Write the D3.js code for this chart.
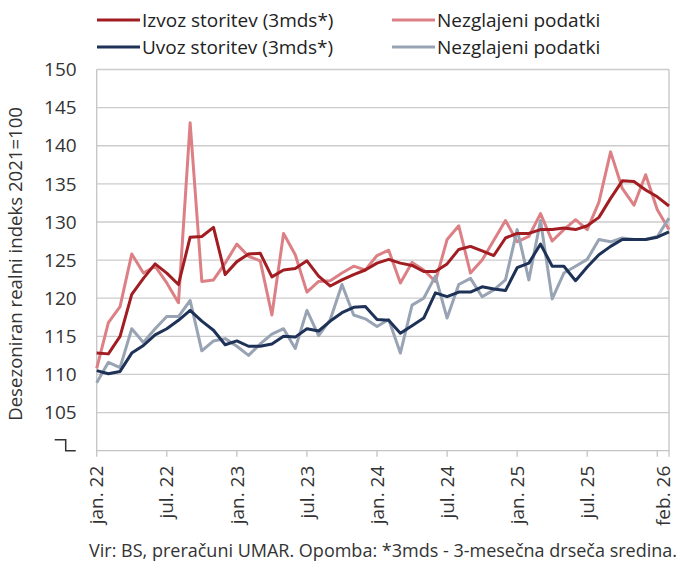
<!DOCTYPE html>
<meta charset="utf-8">
<title>Izvoz in uvoz storitev</title>
<style>
    body { margin: 0; background: #fff; }
    svg { display: block; font-family: "Open Sans", "Liberation Sans", sans-serif; }
</style>
<svg width="679" height="562"></svg>
<script src="https://d3js.org/d3.v7.min.js"></script>
<script>

    // mesecni podatki, jan. 2022 - feb. 2026
    var months = d3.timeMonth.range(new Date(2022, 0, 1), new Date(2026, 2, 1));

    var izvoz3mds = [112.8, 112.7, 115.0, 120.5, 122.6, 124.5, 123.3, 121.8, 128.0, 128.1,
        129.3, 123.1, 124.8, 125.8, 125.9, 122.8, 123.7, 123.9, 124.9, 122.9,
        121.6, 122.4, 123.1, 123.7, 124.6, 125.1, 124.6, 124.3, 123.5, 123.5,
        124.5, 126.4, 126.8, 126.2, 125.6, 127.9, 128.5, 128.5, 129.0, 129.0,
        129.2, 129.0, 129.5, 130.6, 133.1, 135.4, 135.3, 134.2, 133.3, 132.1];

    var izvozRaw = [110.8, 116.8, 118.9, 125.8, 123.3, 124.2, 122.0, 119.4, 143.0, 122.2,
        122.4, 124.6, 127.1, 125.5, 124.9, 117.8, 128.5, 125.7, 120.8, 122.2,
        122.3, 123.3, 124.2, 123.7, 125.6, 126.3, 122.0, 124.7, 123.7, 122.2,
        127.7, 129.5, 123.3, 125.0, 127.6, 130.2, 127.4, 128.1, 131.1, 127.5,
        129.0, 130.3, 129.0, 132.6, 139.2, 134.4, 132.2, 136.2, 131.6, 129.0];

    var uvoz3mds = [110.5, 110.1, 110.4, 112.8, 113.8, 115.2, 116.0, 117.1, 118.4, 117.0,
        115.8, 113.9, 114.4, 113.7, 113.7, 114.0, 115.0, 114.9, 116.0, 115.7,
        117.0, 118.1, 118.8, 118.9, 117.2, 117.1, 115.4, 116.4, 117.4, 120.7,
        120.2, 120.8, 120.8, 121.5, 121.2, 121.0, 124.0, 124.6, 127.1, 124.2,
        124.2, 122.3, 124.1, 125.7, 126.8, 127.7, 127.7, 127.7, 128.0, 128.7];

    var uvozRaw = [108.9, 111.6, 110.9, 116.0, 114.2, 116.0, 117.6, 117.6, 119.7, 113.1,
        114.4, 114.7, 113.7, 112.5, 114.0, 115.3, 116.0, 113.4, 118.4, 115.1,
        117.2, 121.8, 117.8, 117.3, 116.3, 117.2, 112.8, 119.1, 120.0, 122.9,
        117.4, 121.8, 122.6, 120.2, 121.1, 122.4, 129.0, 122.4, 130.2, 119.9,
        123.3, 124.2, 125.1, 127.7, 127.4, 127.9, 127.7, 127.7, 128.1, 130.5];

    var tickIdx = [0, 6, 12, 18, 24, 30, 36, 42, 48];
    var labelIdx = [0, 6, 12, 18, 24, 30, 36, 42, 49];
    var tickLabels = ["jan. 22", "jul. 22", "jan. 23", "jul. 23", "jan. 24", "jul. 24", "jan. 25", "jul. 25", "feb. 26"];
    var yTicks = [105, 110, 115, 120, 125, 130, 135, 140, 145, 150];

    var series = [
        {name: "Nezglajeni podatki", values: izvozRaw, color: "#dc8085", width: 3},
        {name: "Nezglajeni podatki", values: uvozRaw, color: "#98a3b3", width: 3},
        {name: "Izvoz storitev (3mds*)", values: izvoz3mds, color: "#a11d22", width: 3},
        {name: "Uvoz storitev (3mds*)", values: uvoz3mds, color: "#1e3258", width: 3}
    ];

    var svg = d3.select("svg"),
        margin = {top: 69.5, right: 10, bottom: 111.3, left: 96.7},
        width = +svg.attr("width") - margin.left - margin.right,
        height = +svg.attr("height") - margin.top - margin.bottom;

    var x = d3.scaleLinear().domain([0, months.length - 1]).range([0, width]);
    var y = d3.scaleLinear().domain([100, 150]).range([height, 0]);

    var g = svg.append("g").attr("transform", "translate(" + margin.left + "," + margin.top + ")");

    // mreza
    g.selectAll(".grid")
        .data(yTicks)
        .enter().append("line")
        .attr("x1", 0).attr("x2", width)
        .attr("y1", function(d) { return y(d); })
        .attr("y2", function(d) { return y(d); })
        .attr("stroke", "#cccccc")
        .attr("stroke-width", 1.3);

    // okvir osi
    g.append("path")
        .attr("d", "M0," + y(150) + "V" + y(100) + "H" + width + "V" + y(150))
        .attr("fill", "none")
        .attr("stroke", "#c4c4c4")
        .attr("stroke-width", 1.3);

    g.selectAll(".tick")
        .data(tickIdx.concat([49]))
        .enter().append("line")
        .attr("x1", function(d) { return x(d); })
        .attr("x2", function(d) { return x(d); })
        .attr("y1", height).attr("y2", height + 6)
        .attr("stroke", "#c4c4c4")
        .attr("stroke-width", 1.3);

    // oznake y
    g.selectAll(".ylab")
        .data(yTicks)
        .enter().append("text")
        .attr("x", -20)
        .attr("y", function(d) { return y(d); })
        .attr("dy", "0.35em")
        .attr("text-anchor", "end")
        .attr("fill", "#333")
        .style("font-size", "19px")
        .text(function(d) { return d; });

    // prelom osi namesto 100
    g.append("path")
        .attr("d", "M-42," + (y(100) - 11) + "H-31V" + y(100) + "H-21")
        .attr("fill", "none")
        .attr("stroke", "#333")
        .attr("stroke-width", 1.5);

    // oznake x
    g.selectAll(".xlab")
        .data(labelIdx)
        .enter().append("text")
        .attr("transform", function(d, i) {
            var px = x(d) - (i === labelIdx.length - 1 ? 6 : 0);
            return "translate(" + px + "," + (height + 15) + ") rotate(-90)";
        })
        .attr("dy", "0.35em")
        .attr("text-anchor", "end")
        .attr("fill", "#333")
        .style("font-size", "19px")
        .text(function(d, i) { return tickLabels[i]; });

    // naslov y osi
    svg.append("text")
        .attr("transform", "translate(22," + (margin.top + y(124.5)) + ") rotate(-90)")
        .attr("text-anchor", "middle")
        .attr("fill", "#333")
        .style("font-size", "18.6px")
        .text("Desezoniran realni indeks 2021=100");

    var line = d3.line()
        .x(function(d, i) { return x(i); })
        .y(function(d) { return y(d); });

    g.selectAll(".series")
        .data(series)
        .enter().append("path")
        .attr("d", function(d) { return line(d.values); })
        .attr("fill", "none")
        .attr("stroke", function(d) { return d.color; })
        .attr("stroke-width", function(d) { return d.width; })
        .attr("stroke-linejoin", "round");

    // legenda
    var legendItems = [
        {s: series[2], col: 0, row: 0},
        {s: series[0], col: 1, row: 0},
        {s: series[3], col: 0, row: 1},
        {s: series[1], col: 1, row: 1}
    ];
    var legend = svg.selectAll(".legend")
        .data(legendItems)
        .enter().append("g")
        .attr("transform", function(d) { return "translate(" + (97 + d.col * 295) + "," + (20 + d.row * 27) + ")"; });
    legend.append("line")
        .attr("x1", 0).attr("x2", 43)
        .attr("stroke", function(d) { return d.s.color; })
        .attr("stroke-width", 3);
    legend.append("text")
        .attr("x", 45)
        .attr("dy", "0.35em")
        .attr("fill", "#222")
        .style("font-size", "19px")
        .text(function(d) { return d.s.name; });

    svg.append("text")
        .attr("x", 677)
        .attr("y", 557)
        .attr("text-anchor", "end")
        .attr("fill", "#333")
        .style("font-size", "18px")
        .text("Vir: BS, preračuni UMAR. Opomba: *3mds - 3-mesečna drseča sredina.");

</script>
